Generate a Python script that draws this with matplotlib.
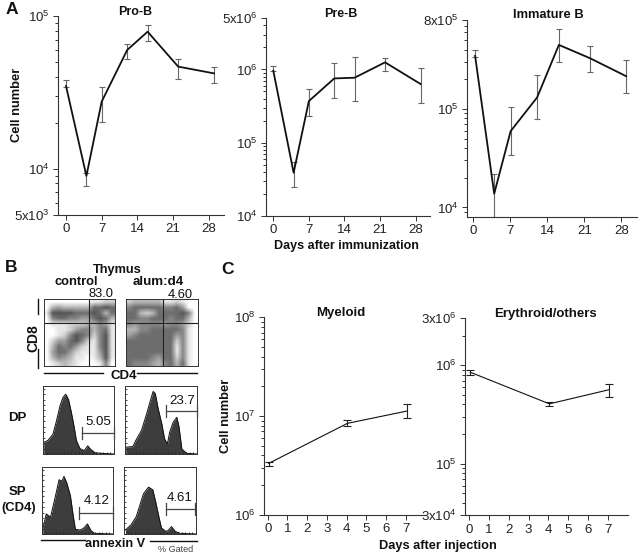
#!/usr/bin/env python3
import matplotlib
matplotlib.use("Agg")
import matplotlib.pyplot as plt
from matplotlib.ticker import MultipleLocator

plt.rcParams['font.family'] = ['Liberation Sans', 'DejaVu Sans']
plt.rcParams['mathtext.default'] = 'regular'

W, H = 640, 555

# Panel A
days_a = [0, 4, 7, 12, 16, 22, 29]
prob = [34800, 8960, 27500, 59900, 78900, 46600, 42100]
prob_hi = [38100, 9310, 34400, 65200, 86900, 52400, 46300]
prob_lo = [34100, 7690, 20200, 52000, 68500, 38400, 36200]
preb = [960000, 38700, 369000, 753000, 770000, 1250000, 631000]
preb_hi = [1110000, 54700, 533000, 1210000, 1460000, 1440000, 1030000]
preb_lo = [950000, 24400, 230000, 405000, 373000, 960000, 343000]
days_imm = [0.4, 4, 7.1, 12.1, 16.2, 22.1, 28.9]
imm = [346000, 13800, 59500, 131000, 447000, 327000, 215000]
imm_hi = [394000, 22000, 105000, 219000, 648000, 433000, 312000]
imm_lo = [340000, 8050, 33800, 79300, 301000, 237000, 145000]
ticks_a = [0, 7, 14, 21, 28]

# Panel C
days_c = [0.05, 4.05, 7.05]
myeloid = [3.31e6, 8.43e6, 1.12e7]
myeloid_hi = [3.44e6, 9.1e6, 1.33e7]
myeloid_lo = [3.11e6, 7.98e6, 9.47e6]
eryth = [850000, 406000, 564000]
eryth_hi = [897000, 420000, 643000]
eryth_lo = [798000, 385000, 476000]
ticks_c = [0, 1, 2, 3, 4, 5, 6, 7]

# Panel B, gray levels (0 white, 9 black)
dots_control = [
    [0, 0, 0, 0, 0, 0, 0, 0, 1, 1, 2, 2],
    [0, 3, 4, 3, 3, 3, 3, 3, 6, 6, 7, 6],
    [1, 7, 7, 7, 7, 6, 6, 6, 7, 6, 3, 6],
    [0, 5, 6, 6, 5, 5, 4, 4, 6, 7, 6, 3],
    [0, 1, 1, 1, 2, 2, 2, 3, 3, 5, 4, 1],
    [0, 0, 1, 1, 2, 4, 5, 5, 3, 5, 6, 1],
    [0, 0, 1, 2, 5, 7, 6, 5, 2, 5, 7, 1],
    [0, 2, 4, 4, 6, 7, 5, 2, 1, 5, 7, 1],
    [0, 3, 6, 5, 6, 4, 2, 1, 1, 5, 7, 1],
    [0, 4, 6, 6, 4, 2, 1, 1, 1, 4, 7, 1],
    [0, 3, 5, 4, 3, 1, 1, 0, 1, 3, 7, 1],
    [0, 1, 2, 3, 2, 1, 0, 0, 0, 1, 5, 0],
]
dots_alum = [
    [2, 3, 3, 3, 3, 3, 1, 1, 2, 1, 0, 0],
    [5, 6, 6, 6, 6, 6, 5, 5, 6, 4, 0, 0],
    [6, 6, 3, 2, 3, 6, 6, 6, 6, 7, 5, 0],
    [6, 6, 5, 5, 6, 6, 6, 5, 6, 6, 3, 0],
    [5, 4, 5, 5, 5, 5, 4, 5, 5, 4, 2, 0],
    [3, 3, 5, 5, 6, 6, 6, 6, 6, 5, 1, 0],
    [4, 5, 6, 6, 6, 6, 6, 6, 4, 5, 1, 0],
    [6, 6, 6, 6, 6, 6, 6, 6, 2, 5, 1, 0],
    [6, 6, 6, 6, 6, 6, 6, 6, 1, 5, 1, 0],
    [6, 6, 6, 6, 6, 6, 6, 6, 1, 5, 1, 0],
    [6, 6, 6, 6, 5, 4, 6, 6, 2, 5, 1, 0],
    [6, 5, 5, 5, 4, 3, 5, 6, 3, 6, 1, 0],
]

# Panel B histograms, percent of frame
dp_ctrl_x = [1, 7, 14, 19, 24, 28, 32, 36, 40, 44, 47, 52, 58, 63, 67, 73, 82, 100]
dp_ctrl_h = [17, 20, 29, 49, 71, 83, 88, 80, 61, 39, 20, 8, 5, 12, 7, 2, 1, 0]
dp_alum_x = [1, 11, 15, 23, 30, 34, 39, 42, 46, 51, 55, 59, 62, 67, 72, 75, 79, 86, 100]
dp_alum_h = [10, 11, 20, 35, 59, 74, 92, 89, 67, 45, 22, 15, 32, 47, 54, 40, 7, 1, 0]
sp_ctrl_x = [1, 6, 12, 19, 24, 28, 31, 35, 40, 44, 47, 53, 58, 64, 69, 74, 100]
sp_ctrl_h = [7, 30, 25, 57, 81, 79, 86, 76, 57, 27, 7, 6, 8, 15, 5, 1, 0]
sp_alum_x = [2, 10, 17, 22, 27, 34, 40, 44, 49, 52, 58, 61, 66, 71, 78, 100]
sp_alum_h = [6, 14, 26, 43, 60, 70, 66, 48, 23, 9, 4, 5, 11, 4, 1, 0]


def px_axes(fig, left, right, top, bottom):
    return fig.add_axes([left / W, 1 - bottom / H, (right - left) / W, (bottom - top) / H])


def log_minors(lo, hi, majors):
    out = []
    decade = 1.0
    while decade < hi:
        for m in range(2, 10):
            v = m * decade
            if lo < v < hi and v not in majors:
                out.append(v)
        decade *= 10
    return out


def log_panel(fig, box, x0, per_day, ylim, yticks, ylabels, xticks):
    left, right, top, bottom = box
    ax = px_axes(fig, left, right, top, bottom)
    ax.patch.set_alpha(0)
    ax.set_xlim((left - x0) / per_day, (right - x0) / per_day)
    ax.set_yscale('log')
    # the small decade ticks go in as unlabelled major ticks
    minors = log_minors(ylim[0], ylim[1], yticks)
    ax.set_yticks(list(yticks) + minors)
    ax.set_yticklabels(list(ylabels) + [''] * len(minors))
    ax.minorticks_off()
    ax.set_ylim(*ylim)
    ax.set_xticks(xticks)
    ax.spines['top'].set_visible(False)
    ax.spines['right'].set_visible(False)
    for s in ('left', 'bottom'):
        ax.spines[s].set_linewidth(0.8)
        ax.spines[s].set_color('#333333')
    ax.tick_params(axis='both', which='major', length=3.5, width=0.7, color='#333333',
                   labelsize=9.5, labelcolor='#222222', pad=2.5)
    for tick in ax.yaxis.get_major_ticks()[len(yticks):]:
        tick.tick1line.set_markersize(2.2)
    return ax


def draw_series(ax, x, y, hi, lo, lw, ecolor, capsize):
    err = [[a - b for a, b in zip(y, lo)], [b - a for a, b in zip(y, hi)]]
    ax.errorbar(x, y, yerr=err, fmt='none', ecolor=ecolor, elinewidth=0.8, capsize=capsize,
                capthick=0.8, clip_on=False)
    ax.plot(x, y, color='#111111', lw=lw, clip_on=False)


def dot_panel(fig, box, grid, gate_x, gate_y):
    ax = px_axes(fig, *box)
    ax.imshow(grid, cmap='gray_r', vmin=0, vmax=10.5, aspect='auto', interpolation='bilinear',
              extent=[0, 100, 0, 100])
    ax.axvline(gate_x, color='#222222', lw=0.8)
    ax.axhline(gate_y, color='#222222', lw=0.8)
    ax.set_xticks([])
    ax.set_yticks([])
    for s in ax.spines.values():
        s.set_linewidth(0.7)
        s.set_color('#333333')


def hist_panel(fig, box, x, h):
    ax = px_axes(fig, *box)
    ax.fill_between(x, h, 0, color='#3d3d3d', lw=0)
    ax.plot(x, h, color='#111111', lw=0.7)
    ax.set_xlim(0, 100)
    ax.set_ylim(0, 100)
    ax.xaxis.set_major_locator(MultipleLocator(5))
    ax.yaxis.set_major_locator(MultipleLocator(8))
    ax.tick_params(axis='both', direction='in', length=1.5, width=0.6, color='#222222',
                   labelbottom=False, labelleft=False)
    for s in ax.spines.values():
        s.set_linewidth(0.7)
        s.set_color('#333333')


def main():
    fig = plt.figure(figsize=(W / 100, H / 100), dpi=100)

    ax = log_panel(fig, (58, 224, 16, 214.6), 66, 5.1, (5e3, 1e5), [5e3, 1e4, 1e5],
                   [r'5x10$^{3}$', r'10$^{4}$', r'10$^{5}$'], ticks_a)
    draw_series(ax, days_a, prob, prob_hi, prob_lo, 1.3, '#666666', 2.2)

    ax = log_panel(fig, (266, 430, 18.3, 215.7), 273.3, 5.08, (1e4, 5e6), [1e4, 1e5, 1e6, 5e6],
                   [r'10$^{4}$', r'10$^{5}$', r'10$^{6}$', r'5x10$^{6}$'], ticks_a)
    draw_series(ax, days_a, preb, preb_hi, preb_lo, 1.3, '#666666', 2.2)

    ax = log_panel(fig, (466.7, 637, 20, 217), 473, 5.3, (8e3, 8e5), [1e4, 1e5, 8e5],
                   [r'10$^{4}$', r'10$^{5}$', r'8x10$^{5}$'], ticks_a)
    draw_series(ax, days_imm, imm, imm_hi, imm_lo, 1.3, '#666666', 2.2)

    ax = log_panel(fig, (263.7, 425, 317.3, 514.7), 267.7, 19.7, (1e6, 1e8), [1e6, 1e7, 1e8],
                   [r'10$^{6}$', r'10$^{7}$', r'10$^{8}$'], ticks_c)
    draw_series(ax, days_c, myeloid, myeloid_hi, myeloid_lo, 0.8, '#222222', 2.9)

    ax = log_panel(fig, (465, 627.7, 318.3, 515.3), 469.3, 19.77, (3e4, 3e6), [3e4, 1e5, 1e6, 3e6],
                   [r'3x10$^{4}$', r'10$^{5}$', r'10$^{6}$', r'3x10$^{6}$'], ticks_c)
    draw_series(ax, days_c, eryth, eryth_hi, eryth_lo, 0.8, '#222222', 2.9)

    dot_panel(fig, (44, 115, 299, 366), dots_control, 64, 64)
    dot_panel(fig, (126, 198, 299, 366), dots_alum, 52, 64)
    hist_panel(fig, (43, 114, 386, 454), dp_ctrl_x, dp_ctrl_h)
    hist_panel(fig, (125, 197, 386, 454), dp_alum_x, dp_alum_h)
    hist_panel(fig, (42, 113, 467, 534), sp_ctrl_x, sp_ctrl_h)
    hist_panel(fig, (124, 196, 467, 534), sp_alum_x, sp_alum_h)

    # overlay in pixel coordinates for labels and gate bars
    ov = fig.add_axes([0, 0, 1, 1])
    ov.set_xlim(0, W)
    ov.set_ylim(H, 0)
    ov.axis('off')

    def label(x, y, s, size=9, weight='bold', color='#111111', rot=0):
        ov.text(x, y, s, fontsize=size, fontweight=weight, color=color, rotation=rot,
                ha='center', va='center')

    label(12, 10, 'A', 12.5)
    label(135, 12, 'Pro-B')
    label(341, 14, 'Pre-B')
    label(548, 15, 'Immature B', 9.3)
    label(17, 105, 'Cell number', 9.3, rot=90)
    label(346, 246, 'Days after immunization', 9)

    label(11, 268, 'B', 12.5)
    label(117, 270, 'Thymus', 9.2)
    label(76, 282, 'control', 9.3)
    label(158, 282, 'alum:d4', 9.6)
    label(101, 294, '83.0', 9.3, 'normal')
    label(180, 295, '4.60', 9.3, 'normal')
    label(33, 338, 'CD8', 10, rot=90)
    label(124, 376, 'CD4', 9.5)
    label(17, 418, 'DP', 9.5)
    label(17, 492, 'SP', 9.5)
    label(19, 508, '(CD4)', 9.4)
    label(115, 544, 'annexin V', 9.2)
    label(176, 549, '% Gated', 6.5, 'normal', '#444444')
    label(98, 422, '5.05', 9.5, 'normal')
    label(182, 401, '23.7', 9.5, 'normal')
    label(97, 501, '4.12', 9.5, 'normal')
    label(180, 498, '4.61', 9.5, 'normal')

    label(228, 269, 'C', 12.5)
    label(341, 313, 'Myeloid', 9.5)
    label(545, 314, 'Erythroid/others', 9.5)
    label(226, 416, 'Cell number', 9.3, rot=90)
    label(438, 546, 'Days after injection', 9.2)

    # axis bars next to the dot plots and annexin label
    for xs, ys in [((37.7, 37.7), (299, 314)), ((37.7, 37.7), (349, 368)),
                   ((44, 103), (373, 373)), ((137, 197), (373, 373)),
                   ((41, 85), (540, 540)), ((150, 197), (541, 541))]:
        ov.plot(xs, ys, color='#111111', lw=1.0)
    # gate bars
    for x0, x1, y in [(82, 114, 433), (166, 197, 411), (79, 113, 513), (166, 195, 509)]:
        ov.plot([x0, x1], [y, y], color='#444444', lw=0.9)
        ov.plot([x0, x0], [y - 6, y + 6], color='#444444', lw=0.9)
        ov.plot([x1, x1], [y - 6, y + 6], color='#444444', lw=0.9)

    fig.savefig('out.png', dpi=100)
    plt.close(fig)


if __name__ == "__main__":
    main()
